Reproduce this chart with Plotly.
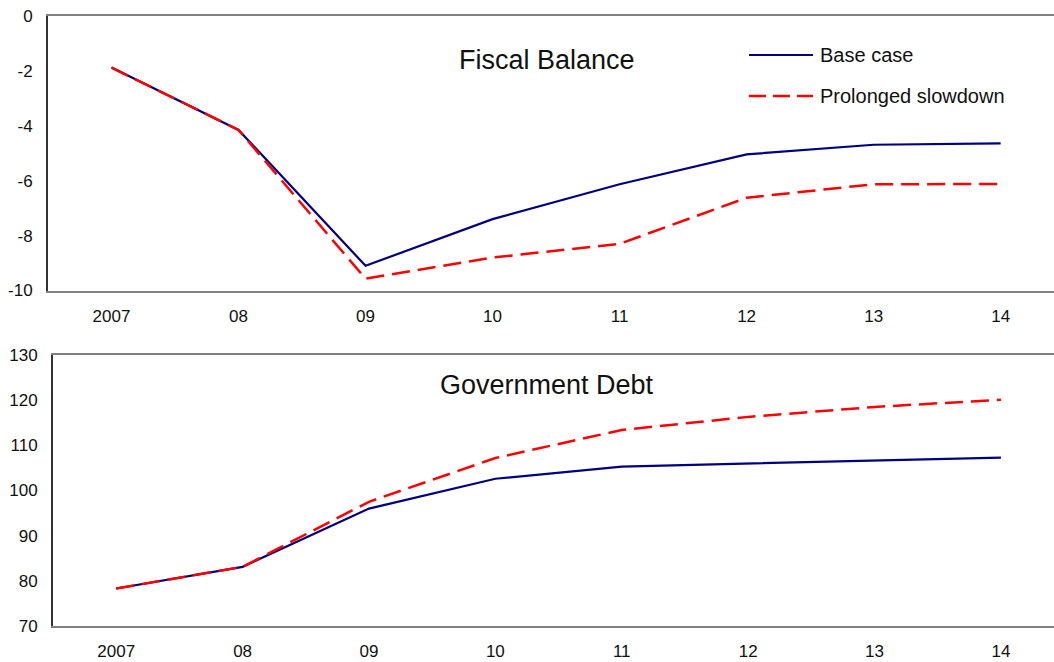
import plotly.graph_objects as go

years = ["2007", "08", "09", "10", "11", "12", "13", "14"]
fiscal_base = [-1.88, -4.15, -9.1, -7.4, -6.13, -5.04, -4.69, -4.64]
fiscal_slow = [-1.88, -4.15, -9.57, -8.8, -8.3, -6.62, -6.13, -6.12]
debt_base = [78.3, 83.1, 96.0, 102.6, 105.3, 106.0, 106.6, 107.3]
debt_slow = [78.3, 83.1, 97.5, 107.2, 113.4, 116.3, 118.5, 120.1]
fiscal_ticks = [0, -2, -4, -6, -8, -10]
debt_ticks = [70, 80, 90, 100, 110, 120, 130]
series_names = ["Base case", "Prolonged slowdown"]

W, H = 1054, 662
BLUE = "#000080"
RED = "#ff0000"
FONT = "Liberation Sans, Arial, sans-serif"
DASH = "18px,8px"

fig = go.Figure()
fig.add_trace(go.Scatter(x=years, y=fiscal_base, mode="lines", name=series_names[0],
                         line=dict(color=BLUE, width=2.2), xaxis="x", yaxis="y"))
fig.add_trace(go.Scatter(x=years, y=fiscal_slow, mode="lines", name=series_names[1],
                         line=dict(color=RED, width=2.5, dash=DASH), xaxis="x", yaxis="y"))
fig.add_trace(go.Scatter(x=years, y=debt_base, mode="lines", name=series_names[0],
                         line=dict(color=BLUE, width=2.2), xaxis="x2", yaxis="y2"))
fig.add_trace(go.Scatter(x=years, y=debt_slow, mode="lines", name=series_names[1],
                         line=dict(color=RED, width=2.5, dash=DASH), xaxis="x2", yaxis="y2"))

xcommon = dict(type="category", showgrid=False, zeroline=False, showline=True,
               linecolor="#808080", linewidth=2, mirror=True, ticks="",
               tickfont=dict(size=17, color="#111"), ticklabelstandoff=9,
               fixedrange=True, automargin=False)
ycommon = dict(showgrid=False, zeroline=False, showline=True, linecolor="#333333",
               linewidth=2, ticks="", tickfont=dict(size=17, color="#111"),
               ticklabelstandoff=10, automargin=False)

# manual legend (key lines + labels)
leg_x0, leg_x1 = 749 / W, 813 / W
leg_y = [1 - 55 / H, 1 - 96 / H]
shapes = [
    dict(type="line", xref="paper", yref="paper", x0=leg_x0, x1=leg_x1, y0=leg_y[0], y1=leg_y[0],
         line=dict(color=BLUE, width=2.2)),
    dict(type="line", xref="paper", yref="paper", x0=leg_x0, x1=leg_x1, y0=leg_y[1], y1=leg_y[1],
         line=dict(color=RED, width=2.5, dash="17px,7px")),
]
annotations = [
    dict(text=series_names[0], x=818 / W, y=leg_y[0], xref="paper", yref="paper",
         showarrow=False, xanchor="left", yanchor="middle", font=dict(size=20, color="#111")),
    dict(text=series_names[1], x=818 / W, y=leg_y[1], xref="paper", yref="paper",
         showarrow=False, xanchor="left", yanchor="middle", font=dict(size=20, color="#111")),
    dict(text="Fiscal Balance", x=547 / W, y=1 - 60 / H, xref="paper", yref="paper",
         showarrow=False, font=dict(size=27, color="#111"), xanchor="center", yanchor="middle"),
    dict(text="Government Debt", x=547 / W, y=1 - 385 / H, xref="paper", yref="paper",
         showarrow=False, font=dict(size=27, color="#111"), xanchor="center", yanchor="middle"),
]

fig.update_layout(
    width=W, height=H,
    margin=dict(l=0, r=0, t=0, b=0, pad=0),
    paper_bgcolor="white", plot_bgcolor="white",
    font=dict(family=FONT, color="#111"),
    showlegend=False,
    xaxis=dict(xcommon, domain=[48 / W, 1], range=[-0.5, 7.42], anchor="y"),
    yaxis=dict(ycommon, domain=[1 - 290.5 / H, 1 - 16 / H], range=[-10, 0],
               tickvals=fiscal_ticks, ticktext=[str(v) for v in fiscal_ticks], anchor="x"),
    xaxis2=dict(xcommon, domain=[53 / W, 1], range=[-0.5, 7.42], anchor="y2"),
    yaxis2=dict(ycommon, domain=[1 - 626 / H, 1 - 355 / H], range=[70, 130],
                tickvals=debt_ticks, ticktext=[str(v) for v in debt_ticks], anchor="x2"),
    shapes=shapes,
    annotations=annotations,
)

post = (
    "document.documentElement.style.margin='0';document.body.style.margin='0';"
    "document.documentElement.style.overflow='hidden';document.body.style.overflow='hidden';"
)

fig.write_html("out.html", config={"displayModeBar": False}, post_script=post)
